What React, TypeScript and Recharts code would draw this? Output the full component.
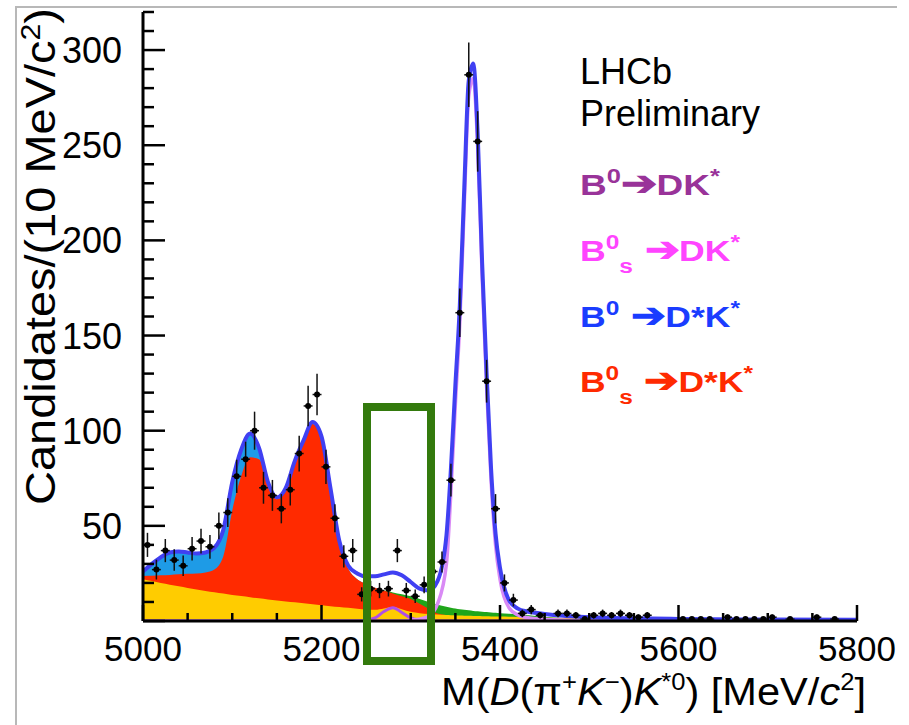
import React from "react";
import { Area, ComposedChart, ErrorBar, Line, Scatter, XAxis, YAxis } from "recharts";

const FONT = "'Liberation Sans', Arial, Helvetica, sans-serif";

// fit components, sampled on a mass grid (MeV/c^2)
const massGrid = [5000, 5010, 5020, 5030, 5040, 5050, 5060, 5070, 5080, 5090, 5100, 5110, 5120, 5130, 5140, 5150, 5160, 5170, 5180, 5190, 5200, 5210, 5220, 5230, 5240, 5250, 5260, 5270, 5280, 5290, 5300, 5310, 5320, 5330, 5340, 5345, 5350, 5355, 5360, 5365, 5370, 5375, 5380, 5385, 5390, 5395, 5400, 5410, 5420, 5430, 5440, 5460, 5480, 5500, 5550, 5600, 5700, 5800];
const totalFit = [26, 30, 33.5, 36, 36.5, 36, 35.5, 36, 38.5, 48, 73, 90, 98.5, 91, 73, 65, 70, 84, 95, 104.5, 97, 70, 42, 29, 25, 23.5, 23.5, 24.5, 25.5, 24, 20.5, 17, 16, 21, 45, 80, 124, 166, 228, 284, 293, 256, 188, 130, 80, 46, 28, 11, 6.5, 5, 4.3, 3.2, 2.5, 2, 1.4, 1.1, 0.8, 0.6];
const b0DstarTop = [26, 30, 33.5, 36, 36.5, 36, 35.5, 36, 38.5, 48, 73, 90, 98, 89, 71, 64, 69, 83, 94, 103.5, 96, 68, 40, 27.5, 22, 19.5, 17.5, 16, 14.5, 13, 11.5, 9, 6.5, 4, 3, 0, 0, 0, 0, 0, 0, 0, 0, 0, 0, 0, 0, 0, 0, 0, 0, 0, 0, 0, 0, 0, 0, 0];
const bsDstarTop = [23.7, 23.8, 24, 24.2, 24.5, 24.8, 25, 25.5, 27, 34, 58, 76, 86, 85, 71, 64, 69, 83, 94, 103.5, 96, 68, 40, 27.5, 22, 19.5, 17.5, 16, 14.5, 13, 11.5, 9, 6.5, 4, 3, 0, 0, 0, 0, 0, 0, 0, 0, 0, 0, 0, 0, 0, 0, 0, 0, 0, 0, 0, 0, 0, 0, 0];
const otherTop = [0, 0, 0, 0, 0, 0, 0, 0, 0, 0, 0, 0, 0, 0, 0, 0, 0, 0, 0, 0, 0, 0, 0, 0, 0, 0, 0, 16, 15, 14, 13, 11.5, 10, 8.5, 7.5, 7, 6.6, 6.2, 5.9, 5.6, 5.3, 5.1, 4.9, 4.7, 4.5, 4.3, 4.1, 3.8, 3.5, 3.2, 2.6, 1.8, 1.2, 0.8, 0.4, 0.2, 0.1, 0];
const combTop = [22, 21, 20, 19.1, 18.2, 17.4, 16.6, 15.8, 15.1, 14.4, 13.7, 13.1, 12.5, 11.9, 11.3, 10.8, 10.3, 9.8, 9.3, 8.8, 8.3, 7.8, 7.3, 6.9, 6.5, 6.1, 5.9, 6.6, 7.4, 6.2, 4.8, 4.1, 3.7, 3.4, 3.1, 3, 2.9, 2.85, 2.8, 2.7, 2.65, 2.6, 2.5, 2.45, 2.4, 2.35, 2.3, 2.2, 2.1, 2, 1.9, 1.75, 1.6, 1.5, 1.2, 1, 0.7, 0.5];
const bsDkLine = [0, 0, 0, 0, 0, 0, 0, 0, 0, 0, 0, 0, 0, 0, 0, 0, 0, 0, 0, 0, 0, 0, 0, 0, 0, 0, 0, 0, 0, 0, 0.5, 1, 2.5, 9, 30, 68, 114, 157, 219, 276, 285, 249, 181, 123, 74, 40, 22, 7, 3.2, 1.8, 1.2, 0.6, 0.4, 0.3, 0.15, 0.1, 0, 0];
const b0DkLine = [0, 0, 0, 0, 0, 0, 0, 0, 0, 0, 0, 0, 0, 0, 0, 0, 0, 0, 0, 0, 0, 0, 0, 0, 0, 0.4, 1.6, 5, 7, 4.5, 1.6, 0.5, 0.2, 0, 0, 0, 0, 0, 0, 0, 0, 0, 0, 0, 0, 0, 0, 0, 0, 0, 0, 0, 0, 0, 0, 0, 0, 0];

// data histogram, 10 MeV bins (empty bins left out)
const binMass = [5005, 5015, 5025, 5035, 5045, 5055, 5065, 5075, 5085, 5095, 5105, 5115, 5125, 5135, 5145, 5155, 5165, 5175, 5185, 5195, 5205, 5215, 5225, 5235, 5245, 5255, 5265, 5275, 5285, 5295, 5305, 5315, 5325, 5335, 5345, 5355, 5365, 5375, 5385, 5395, 5405, 5415, 5425, 5435, 5445, 5465, 5475, 5485, 5495, 5505, 5515, 5525, 5535, 5545, 5555, 5565, 5605, 5615, 5625, 5635, 5655, 5665, 5675, 5685, 5695, 5705, 5725, 5755, 5775];
const binCount = [40, 27, 37, 32, 29, 38, 42, 39, 50, 57, 76, 85, 100, 70, 66, 59, 69, 88, 113, 119, 81, 54, 34, 37, 14, 17, 16, 17, 37, 16, 13, 19, 26, 31, 74, 162, 287, 252, 126, 59, 20, 11, 4, 6, 3, 4, 4, 3, 1, 3, 4, 3, 4, 3, 2, 3, 1, 1, 1, 1, 2, 1, 1, 1, 1, 2, 1, 2, 1];

const xTicks = [5000, 5050, 5100, 5150, 5200, 5250, 5300, 5350, 5400, 5450, 5500, 5550, 5600, 5650, 5700, 5750, 5800];
const xLabels = [5000, 5200, 5400, 5600, 5800];
const yTicks = [0, 10, 20, 30, 40, 50, 60, 70, 80, 90, 100, 110, 120, 130, 140, 150, 160, 170, 180, 190, 200, 210, 220, 230, 240, 250, 260, 270, 280, 290, 300, 310, 320];
const yLabels = [50, 100, 150, 200, 250, 300];

const fitData = massGrid.map((m, i) => ({
  m,
  total: totalFit[i],
  b0Dstar: b0DstarTop[i],
  bsDstar: bsDstarTop[i],
  other: otherTop[i],
  comb: combTop[i],
  bsDk: bsDkLine[i],
  b0Dk: b0DkLine[i],
}));

const points = binMass.map((m, i) => ({
  m,
  n: binCount[i],
  err: Math.sqrt(binCount[i]),
  xerr: 5,
}));

function BottomTick(props: any) {
  const { x, y, payload } = props;
  const major = payload.value % 200 === 0;
  return (
    <g>
      <line x1={x} x2={x} y1={y} y2={y - (major ? 16 : 8)} stroke="#000" strokeWidth={2.5} />
      {xLabels.includes(payload.value) && (
        <text x={x} y={y + 40} textAnchor="middle" fontSize={35} fontFamily={FONT} fill="#000">
          {payload.value}
        </text>
      )}
    </g>
  );
}

function TopTick(props: any) {
  const { x, y, payload } = props;
  const major = payload.value % 200 === 0;
  return <line x1={x} x2={x} y1={y} y2={y + (major ? 16 : 8)} stroke="#000" strokeWidth={2.5} />;
}

function LeftTick(props: any) {
  const { x, y, payload } = props;
  const major = payload.value % 50 === 0;
  return (
    <g>
      <line x1={x} x2={x + (major ? 22 : 11)} y1={y} y2={y} stroke="#000" strokeWidth={2.5} />
      {yLabels.includes(payload.value) && (
        <text x={x - 21} y={y + 13} textAnchor="end" fontSize={36} fontFamily={FONT} fill="#000">
          {payload.value}
        </text>
      )}
    </g>
  );
}

function RightTick(props: any) {
  const { x, y, payload } = props;
  const major = payload.value % 50 === 0;
  return <line x1={x} x2={x - (major ? 22 : 11)} y1={y} y2={y} stroke="#000" strokeWidth={2.5} />;
}

function Dot(props: any) {
  return <circle cx={props.cx} cy={props.cy} r={3} fill="#000" />;
}

const legend = [
  { color: "#993399", sub: false, body: "DK", gap: "", len: 140 },
  { color: "#ff44ff", sub: true, body: "DK", gap: " ", len: 160 },
  { color: "#1a3cff", sub: false, body: "D*K", gap: " ", len: 160 },
  { color: "#ff2a00", sub: true, body: "D*K", gap: " ", len: 173 },
];
const legendY = [195, 261, 327, 392];

export default function App() {
  const axisLine = { stroke: "#000", strokeWidth: 3 };
  return (
    <div style={{ position: "absolute", left: 0, top: 0, width: 909, height: 725, background: "#fff", overflow: "hidden" }}>
      <div style={{ position: "absolute", left: 15, top: 6, width: 880, height: 730, borderTop: "2px solid #b8b8b8", borderLeft: "2px solid #b8b8b8" }} />
      <div style={{ position: "absolute", left: 0, top: 0 }}>
        <ComposedChart width={909} height={725} data={fitData} margin={{ top: 12, right: 52, bottom: 44, left: 83 }}>
          <XAxis xAxisId="b" dataKey="m" type="number" domain={[5000, 5800]} allowDataOverflow ticks={xTicks} interval={0} tickSize={0} tickMargin={0} tickLine={false} axisLine={axisLine} tick={<BottomTick />} height={60} orientation="bottom" />
          <XAxis xAxisId="t" type="number" domain={[5000, 5800]} allowDataOverflow ticks={xTicks} interval={0} tickSize={0} tickMargin={0} tickLine={false} axisLine={axisLine} tick={<TopTick />} height={0} orientation="top" />
          <YAxis yAxisId="l" type="number" domain={[0, 320]} allowDataOverflow ticks={yTicks} interval={0} tickSize={0} tickMargin={0} tickLine={false} axisLine={axisLine} tick={<LeftTick />} width={60} orientation="left" />
          <YAxis yAxisId="r" type="number" domain={[0, 320]} allowDataOverflow ticks={yTicks} interval={0} tickSize={0} tickMargin={0} tickLine={false} axisLine={axisLine} tick={<RightTick />} width={0} orientation="right" />

          <Area xAxisId="b" yAxisId="l" dataKey="b0Dstar" type="monotone" fill="#1e9be6" fillOpacity={1} stroke="none" isAnimationActive={false} />
          <Area xAxisId="b" yAxisId="l" dataKey="other" type="monotone" fill="#1fa61a" fillOpacity={1} stroke="none" isAnimationActive={false} />
          <Area xAxisId="b" yAxisId="l" dataKey="bsDstar" type="monotone" fill="#ff2a00" fillOpacity={1} stroke="none" isAnimationActive={false} />
          <Area xAxisId="b" yAxisId="l" dataKey="comb" type="monotone" fill="#ffcc00" fillOpacity={1} stroke="none" isAnimationActive={false} />
          <Line xAxisId="b" yAxisId="l" dataKey="b0Dk" type="monotone" stroke="#b04ee8" strokeWidth={3} dot={false} isAnimationActive={false} />
          <Line xAxisId="b" yAxisId="l" dataKey="bsDk" type="monotone" stroke="#d98af5" strokeWidth={3.5} dot={false} isAnimationActive={false} />
          <Line xAxisId="b" yAxisId="l" dataKey="total" type="monotone" stroke="#4040f2" strokeWidth={4} dot={false} isAnimationActive={false} />
          <Scatter xAxisId="b" yAxisId="l" data={points} dataKey="n" shape={<Dot />} isAnimationActive={false}>
            <ErrorBar dataKey="err" direction="y" width={0} stroke="#111" strokeWidth={1.5} />
            <ErrorBar dataKey="xerr" direction="x" width={0} stroke="#111" strokeWidth={1.5} />
          </Scatter>
        </ComposedChart>
      </div>
      <svg width={909} height={725} style={{ position: "absolute", left: 0, top: 0, pointerEvents: "none" }}>
        <text transform="translate(55,8) rotate(-90)" textAnchor="end" fontSize={42} textLength={497} lengthAdjust="spacingAndGlyphs" fontFamily={FONT} fill="#000">
          Candidates/(10 MeV/c<tspan dy={-15} fontSize={27}>2</tspan><tspan dy={15}>)</tspan>
        </text>
        <text x={866} y={705} textAnchor="end" fontSize={39} textLength={425} lengthAdjust="spacingAndGlyphs" fontFamily={FONT} fill="#000">
          M(<tspan fontStyle="italic">D</tspan>(π<tspan dy={-15} fontSize={24}>+</tspan><tspan dy={15} fontStyle="italic">K</tspan><tspan dy={-15} fontSize={24}>−</tspan><tspan dy={15}>)</tspan><tspan fontStyle="italic">K</tspan><tspan dy={-15} fontSize={24}>*0</tspan><tspan dy={15}>) [MeV/</tspan><tspan fontStyle="italic">c</tspan><tspan dy={-15} fontSize={24}>2</tspan><tspan dy={15}>]</tspan>
        </text>
        <text x={580} y={84} fontSize={36} fontFamily={FONT} fill="#000">LHCb</text>
        <text x={580} y={126} fontSize={36} fontFamily={FONT} fill="#000">Preliminary</text>
        {legend.map((l, i) => (
          <text key={i} x={580} y={legendY[i]} fontSize={29} fontWeight="bold" fontFamily={FONT} fill={l.color} textLength={l.len} lengthAdjust="spacingAndGlyphs">
            B<tspan dy={-12} fontSize={20}>0</tspan>
            {l.sub ? <tspan dy={24} fontSize={20}>s</tspan> : null}
            <tspan dy={l.sub ? -12 : 12} fontSize={34}>{l.gap}➔</tspan>
            <tspan>{l.body}</tspan>
            <tspan dy={-12} fontSize={20}>*</tspan>
          </text>
        ))}
        <rect x={367} y={407} width={64} height={254} fill="none" stroke="#337a0d" strokeWidth={8} />
      </svg>
    </div>
  );
}
